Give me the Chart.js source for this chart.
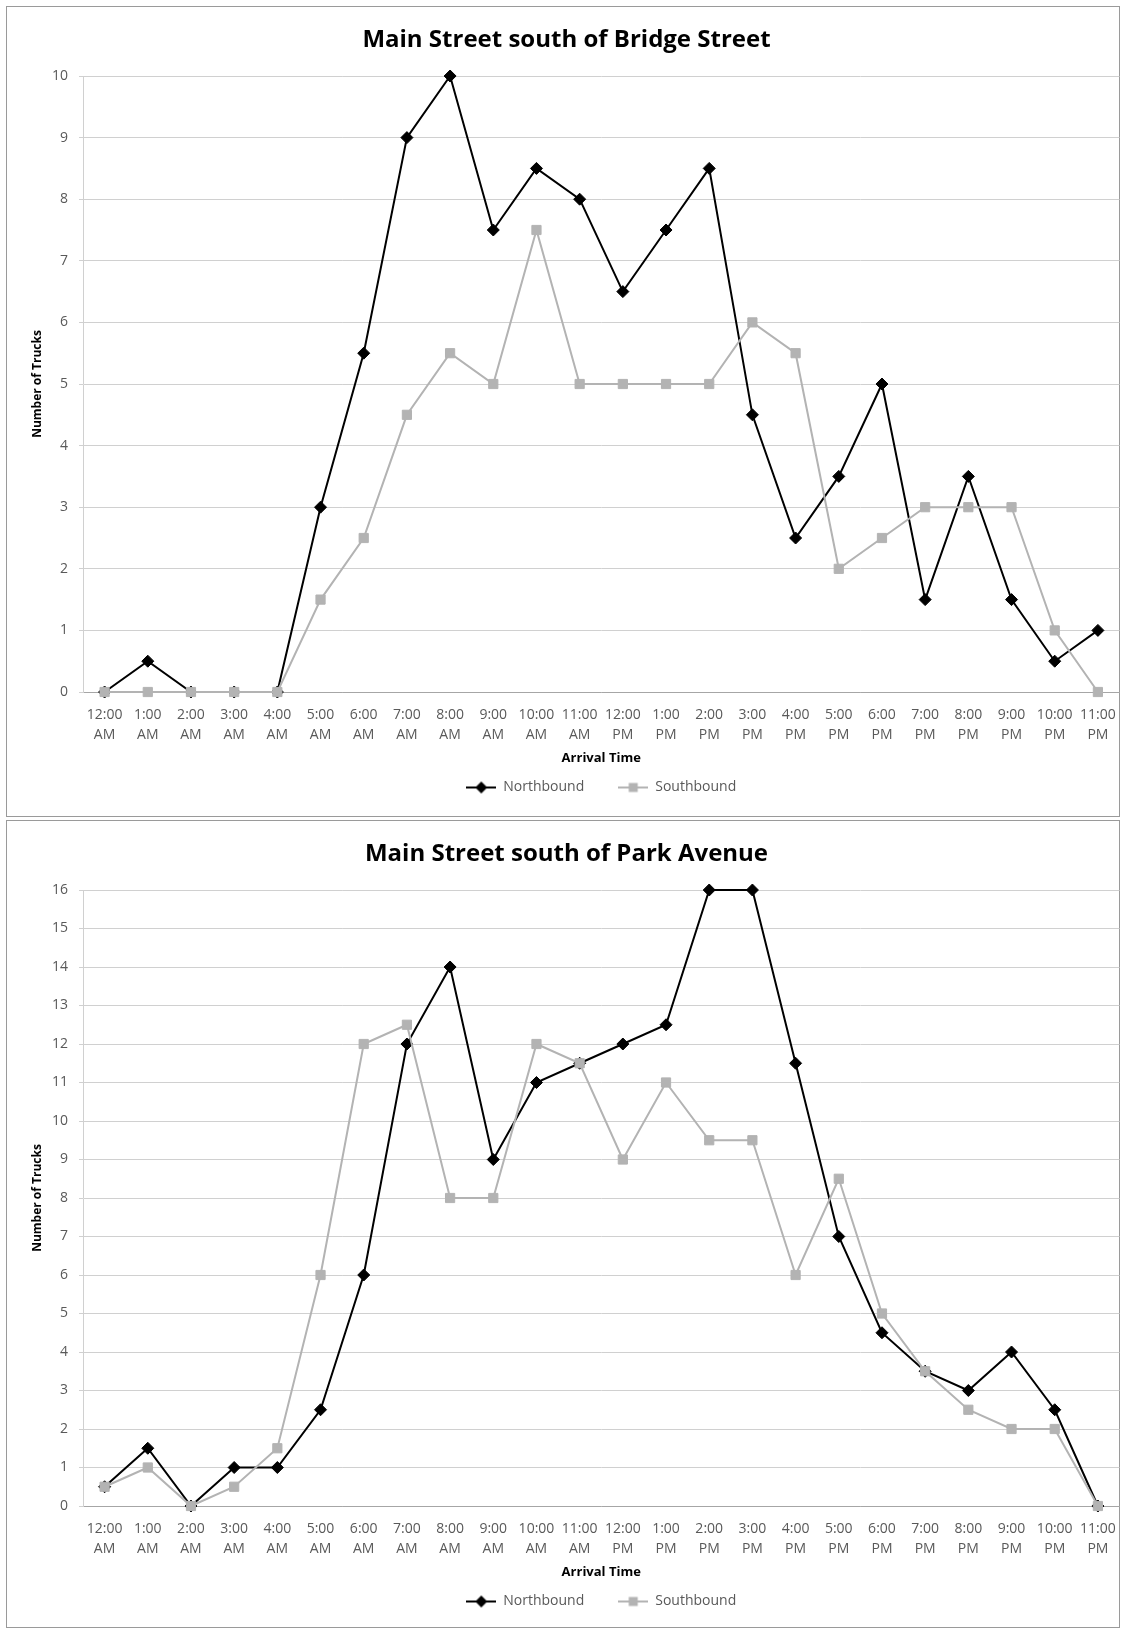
<!DOCTYPE html>
<html>
<head>
<meta charset="utf-8">
<script src="https://cdn.jsdelivr.net/npm/chart.js@4.4.0/dist/chart.umd.min.js"></script>
<style>
  body{margin:0;background:#fff;width:1121px;height:1629px;position:relative;overflow:hidden;}
  .frame{position:absolute;left:6px;width:1114px;box-sizing:border-box;border:1px solid #9a9a9a;background:#fff;}
  canvas{position:absolute;left:6px;}
</style>
</head>
<body>
<div class="frame" style="top:6px;height:811px;"></div>
<div class="frame" style="top:820px;height:808px;"></div>
<canvas id="bridgeChart" width="1121" height="811" style="top:6px;"></canvas>
<canvas id="parkChart" width="1121" height="808" style="top:820px;"></canvas>
<script>
var hourLabels = [['12:00','AM'],['1:00','AM'],['2:00','AM'],['3:00','AM'],['4:00','AM'],['5:00','AM'],
  ['6:00','AM'],['7:00','AM'],['8:00','AM'],['9:00','AM'],['10:00','AM'],['11:00','AM'],
  ['12:00','PM'],['1:00','PM'],['2:00','PM'],['3:00','PM'],['4:00','PM'],['5:00','PM'],
  ['6:00','PM'],['7:00','PM'],['8:00','PM'],['9:00','PM'],['10:00','PM'],['11:00','PM']];
var seriesNames = ['Northbound','Southbound'];

// Main Street south of Bridge Street
var bridgeNorth = [0,0.5,0,0,0,3,5.5,9,10,7.5,8.5,8,6.5,7.5,8.5,4.5,2.5,3.5,5,1.5,3.5,1.5,0.5,1];
var bridgeSouth = [0,0,0,0,0,1.5,2.5,4.5,5.5,5,7.5,5,5,5,5,6,5.5,2,2.5,3,3,3,1,0];
var bridgeMax = 10;

// Main Street south of Park Avenue
var parkNorth = [0.5,1.5,0,1,1,2.5,6,12,14,9,11,11.5,12,12.5,16,16,11.5,7,4.5,3.5,3,4,2.5,0];
var parkSouth = [0.5,1,0,0.5,1.5,6,12,12.5,8,8,12,11.5,9,11,9.5,9.5,6,8.5,5,3.5,2.5,2,2,0];
var parkMax = 16;

var northColor = '#000000';
var southColor = '#b3b3b3';

Chart.defaults.font.family = "'Open Sans', sans-serif";

// little line+marker picture for the legend, like excel draws it
function legendMarker(color, shape){
  var c = document.createElement('canvas');
  c.width = 30;
  c.height = 14;
  var g = c.getContext('2d');
  g.strokeStyle = color;
  g.lineWidth = 2;
  g.beginPath();
  g.moveTo(0,7);
  g.lineTo(30,7);
  g.stroke();
  g.fillStyle = color;
  g.beginPath();
  if(shape == 'diamond'){
    g.moveTo(15,1); g.lineTo(21,7); g.lineTo(15,13); g.lineTo(9,7);
  }else{
    g.rect(10.5,2.5,9,9);
  }
  g.fill();
  return c;
}
var markers = [legendMarker(northColor,'diamond'), legendMarker(southColor,'square')];

var legendGap = 34;    // space between legend entries
var axisTitleLift = legendGap - 14.5;

function makeChart(id, title, north, south, maxY){
  var canvas = document.getElementById(id);
  var data1 = {
    labels: hourLabels,
    datasets: [{
      label: seriesNames[0],
      data: north,
      borderColor: northColor,
      backgroundColor: northColor,
      borderWidth: 2,
      pointStyle: 'rectRot',
      pointRadius: 6,
      pointBorderWidth: 1,
      tension: 0,
      clip: false,
      order: 1
    },{
      label: seriesNames[1],
      data: south,
      borderColor: southColor,
      backgroundColor: southColor,
      borderWidth: 2,
      pointStyle: 'rect',
      pointRadius: 6.5,
      pointBorderWidth: 1,
      tension: 0,
      clip: false,
      order: 0
    }]
  };
  var options = {
    responsive: false,
    animation: false,
    devicePixelRatio: 1,
    layout: {padding: {top: 0, left: 0, right: 0, bottom: canvas.height - 798.5}},
    plugins: {
      title: {
        display: true,
        text: title,
        color: '#000',
        font: {size: 24, weight: 'bold'},
        padding: {top: 20, bottom: 21.2}
      },
      legend: {
        position: 'bottom',
        fullSize: false,
        labels: {
          usePointStyle: true,
          pointStyleWidth: 30,
          color: '#595959',
          font: {size: 14},
          padding: legendGap,
          generateLabels: function(chart){
            return chart.data.datasets.map(function(ds, i){
              return {text: ds.label, pointStyle: markers[i], datasetIndex: i, fontColor: '#595959',
                      hidden: false, lineWidth: 0, strokeStyle: 'rgba(0,0,0,0)', fillStyle: 'rgba(0,0,0,0)'};
            });
          }
        }
      },
      tooltip: {enabled: false}
    },
    scales: {
      x: {
        offset: true,
        // invisible tick marks give the gap under the axis (tick padding would shrink the plot)
        grid: {display: true, drawOnChartArea: false, drawTicks: true, tickLength: 13, tickColor: 'rgba(0,0,0,0)'},
        border: {color: '#a6a6a6'},
        ticks: {color: '#595959', font: {size: 14, lineHeight: '20px'}, padding: 0, maxRotation: 0, autoSkip: false},
        title: {display: true, text: 'Arrival Time', color: '#000', font: {size: 13, weight: 'bold'}, padding: {top: 0, bottom: -axisTitleLift}},
        afterFit: function(s){
          s.height = 74 - axisTitleLift;
          s.paddingLeft = 0;
          s.paddingRight = 0;
        }
      },
      y: {
        min: 0,
        max: maxY,
        ticks: {stepSize: 1, color: '#595959', font: {size: 14}, padding: 11},
        grid: {color: '#d0d0d0', lineWidth: 1, drawTicks: true, tickLength: 4},
        border: {color: '#d0d0d0'},
        title: {display: true, text: 'Number of Trucks', color: '#000', font: {size: 12, weight: 'bold'}, padding: {top: 24, bottom: 0}},
        afterFit: function(s){ s.width = 77; }
      }
    }
  };
  return new Chart(canvas, {type: 'line', data: data1, options: options});
}

makeChart('bridgeChart', 'Main Street south of Bridge Street', bridgeNorth, bridgeSouth, bridgeMax);
makeChart('parkChart', 'Main Street south of Park Avenue', parkNorth, parkSouth, parkMax);
</script>
</body>
</html>
